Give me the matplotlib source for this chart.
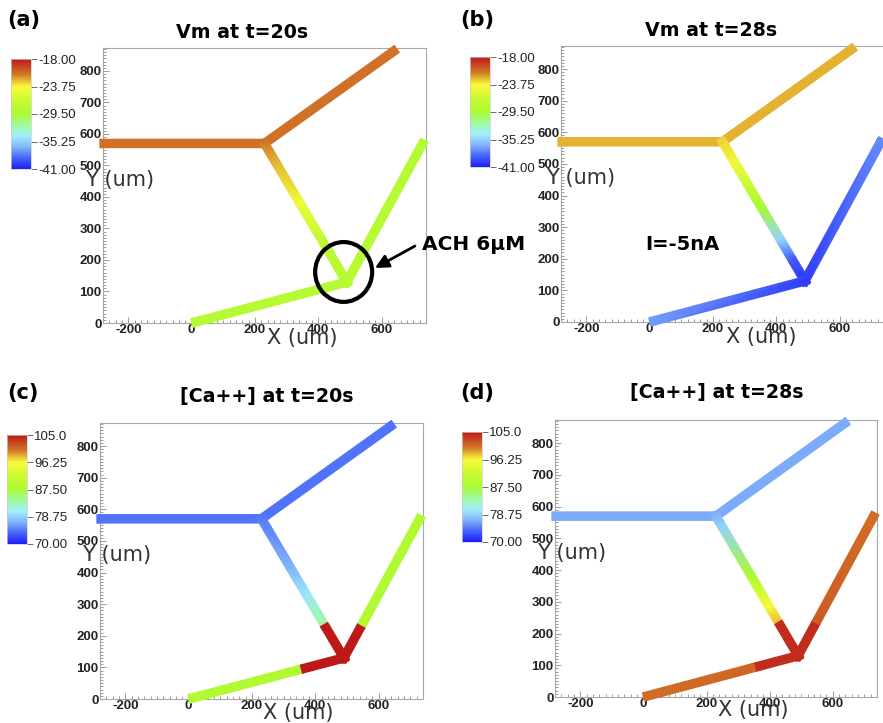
import numpy as np
import matplotlib
matplotlib.use('Agg')
import matplotlib.pyplot as plt
import matplotlib.tri as mtri
from matplotlib.colors import LinearSegmentedColormap, Normalize
from matplotlib.cm import ScalarMappable
from matplotlib.patches import Ellipse
from matplotlib.ticker import MultipleLocator

W, H = 883, 723

# neuron morphology in um: soma, top tip, left tip, lower junction, right tip, bottom tip
node_x = [230, 648, -290, 490, 735, 0]
node_y = [570, 870, 570, 130, 580, 0]
branches = [(0, 1), (0, 2), (0, 3), (3, 4), (3, 5)]
junctions = (0, 3)

# (fraction along branch, value) pairs for each branch, same order as branches
vm_20s = [
    ([0, 1], [-21.0, -21.0]),
    ([0, 1], [-21.0, -21.0]),
    ([0, 0.15, 0.42, 0.75, 1], [-21.0, -22.5, -24.5, -28.0, -28.5]),
    ([0, 1], [-28.5, -28.5]),
    ([0, 1], [-28.5, -28.5]),
]
vm_28s = [
    ([0, 1], [-22.4, -22.4]),
    ([0, 1], [-22.4, -22.4]),
    ([0, 0.15, 0.47, 0.7, 0.85, 1], [-23.0, -24.5, -29.5, -35.0, -39.0, -40.5]),
    ([0, 1], [-40.0, -37.5]),
    ([0, 1], [-40.0, -37.0]),
]
ca_20s = [
    ([0, 1], [74.2, 74.2]),
    ([0, 1], [74.2, 74.2]),
    ([0, 0.35, 0.55, 0.76, 0.76, 1], [74.5, 77.0, 80.0, 84.0, 105.0, 105.0]),
    ([0, 0.23, 0.23, 1], [105.0, 105.0, 88.5, 88.5]),
    ([0, 0.28, 0.28, 1], [105.0, 105.0, 88.5, 88.5]),
]
ca_28s = [
    ([0, 1], [76.6, 76.6]),
    ([0, 1], [76.6, 76.6]),
    ([0, 0.08, 0.43, 0.65, 0.76, 0.76, 1], [76.8, 79.0, 88.0, 96.0, 98.0, 104.0, 104.0]),
    ([0, 0.23, 0.23, 1], [104.0, 104.0, 101.5, 100.5]),
    ([0, 0.28, 0.28, 1], [104.0, 104.0, 101.0, 100.5]),
]

vm_range = (-41.0, -18.0)
ca_range = (70.0, 105.0)
vm_ticks = [-41.0, -35.25, -29.5, -23.75, -18.0]
vm_ticklabels = ['-41.00', '-35.25', '-29.50', '-23.75', '-18.00']
ca_ticks = [70.0, 78.75, 87.5, 96.25, 105.0]
ca_ticklabels = ['70.00', '78.75', '87.50', '96.25', '105.0']

x_ticks = [-200, 0, 200, 400, 600]
y_ticks = [0, 100, 200, 300, 400, 500, 600, 700, 800]

titles = ['Vm at t=20s', 'Vm at t=28s', '[Ca++] at t=20s', '[Ca++] at t=28s']
letters = ['(a)', '(b)', '(c)', '(d)']

cmap = LinearSegmentedColormap.from_list('rainbow_vtk', list(zip(
    [0, 0.1, 0.2, 0.3, 0.4, 0.5, 0.62, 0.75, 0.86, 1.0],
    ['#1e1efa', '#4664fa', '#82b4fa', '#a0f0fa', '#a0faa0',
     '#aafa32', '#c8fa32', '#fafa3c', '#d27828', '#be1919'])))


def px_rect(left, top, right, bottom):
    return [left / W, 1 - bottom / H, (right - left) / W, (bottom - top) / H]


def draw_tubes(ax, values, vmin, vmax, hw=13.5):
    for (i, j), (pos, val) in zip(branches, values):
        a = np.array([node_x[i], node_y[i]], float)
        b = np.array([node_x[j], node_y[j]], float)
        d = b - a
        u = d / np.hypot(*d)
        n = np.array([-u[1], u[0]]) * hw
        f = np.array(pos, float)
        pts = a + f[:, None] * d
        if i in junctions:
            pts[0] -= u * hw
        if j in junctions:
            pts[-1] += u * hw
        m = len(pts)
        verts = np.vstack([pts + n, pts - n])
        vals = np.concatenate([val, val])
        tris = []
        for k in range(m - 1):
            if f[k + 1] == f[k]:
                continue
            tris.append([k, m + k, k + 1])
            tris.append([m + k, m + k + 1, k + 1])
        tri = mtri.Triangulation(verts[:, 0], verts[:, 1], tris)
        ax.tripcolor(tri, vals, shading='gouraud', cmap=cmap,
                     vmin=vmin, vmax=vmax, clip_on=False, zorder=3)


def style_axes(ax):
    ax.set_xlim(-280, 740)
    ax.set_ylim(0, 873)
    ax.set_xticks(x_ticks)
    ax.set_yticks(y_ticks)
    ax.set_xticklabels([str(t) for t in x_ticks], fontfamily='Liberation Sans',
                       fontweight='bold', fontsize=9.5, color='#222222')
    ax.set_yticklabels([str(t) for t in y_ticks], fontfamily='Liberation Sans',
                       fontweight='bold', fontsize=9.5, color='#222222')
    ax.xaxis.set_minor_locator(MultipleLocator(20))
    ax.yaxis.set_minor_locator(MultipleLocator(10))
    ax.tick_params(which='both', direction='in', color='#8a8a8a', width=0.6, pad=1)
    ax.tick_params(which='major', length=4)
    ax.tick_params(which='minor', length=2)
    for sp in ax.spines.values():
        sp.set_color('#a8a8a8')
        sp.set_linewidth(0.8)


def add_colorbar(fig, rect, vrange, ticks, ticklabels):
    cax = fig.add_axes(px_rect(*rect))
    sm = ScalarMappable(norm=Normalize(*vrange), cmap=cmap)
    cb = fig.colorbar(sm, cax=cax)
    cb.set_ticks(ticks)
    cb.set_ticklabels(ticklabels)
    cb.outline.set_edgecolor('#cccccc')
    cb.outline.set_linewidth(0.5)
    cax.tick_params(length=4, width=0.6, color='#555555', pad=1)
    for lab in cax.get_yticklabels():
        lab.set_fontfamily('Liberation Sans')
        lab.set_fontsize(9.5)
        lab.set_color('#222222')


fig = plt.figure(figsize=(W / 100, H / 100), dpi=100)

axes_px = [(103, 48, 426, 323), (561, 46, 884, 322),
           (100, 423, 423, 699), (555, 420, 877, 697)]
cbar_px = [(11, 59, 31, 169), (470, 57, 490, 167),
           (7, 435, 27, 544), (462, 432, 482, 542)]
title_px = [(242, 32), (711, 31), (267, 396), (717, 393)]
letter_px = [(7, 20), (460, 20), (7, 393), (460, 393)]
ylab_px = [(85, 180), (546, 178), (82, 555), (537, 553)]
xlab_px = [(267, 338), (726, 337), (263, 713), (718, 710)]

panel_values = [vm_20s, vm_28s, ca_20s, ca_28s]
panel_ranges = [vm_range, vm_range, ca_range, ca_range]
panel_ticks = [(vm_ticks, vm_ticklabels)] * 2 + [(ca_ticks, ca_ticklabels)] * 2

axes = []
for k in range(4):
    ax = fig.add_axes(px_rect(*axes_px[k]))
    style_axes(ax)
    draw_tubes(ax, panel_values[k], *panel_ranges[k])
    add_colorbar(fig, cbar_px[k], panel_ranges[k], *panel_ticks[k])
    axes.append(ax)

    tx, ty = title_px[k]
    fig.text(tx / W, 1 - ty / H, titles[k], ha='center', va='center',
             fontsize=13.7, fontweight='bold')
    lx, ly = letter_px[k]
    fig.text(lx / W, 1 - ly / H, letters[k], ha='left', va='center',
             fontsize=15, fontweight='bold')
    yx, yy = ylab_px[k]
    fig.text(yx / W, 1 - yy / H, 'Y (um)', ha='left', va='center',
             fontsize=15, color='#333333')
    xx, xy = xlab_px[k]
    fig.text(xx / W, 1 - xy / H, 'X (um)', ha='left', va='center',
             fontsize=15, color='#333333')

# stimulus markers
axes[0].add_patch(Ellipse((480, 162), 180, 190, fill=False, lw=3, ec='black',
                          clip_on=False, zorder=5))
fig.text(422 / W, 1 - 245 / H, 'ACH 6μM', ha='left', va='center',
         fontsize=14.5, fontweight='bold')
fig.text(645 / W, 1 - 245 / H, 'I=-5nA', ha='left', va='center',
         fontsize=14, fontweight='bold')
for tail, head in [((415, 246), (375, 268)), ((732, 247), (783, 263))]:
    axes[0].annotate('', xy=(head[0], H - head[1]), xycoords='figure pixels',
                     xytext=(tail[0], H - tail[1]), textcoords='figure pixels',
                     arrowprops=dict(arrowstyle='-|>', lw=2, color='black',
                                     mutation_scale=20, shrinkA=0, shrinkB=0),
                     annotation_clip=False)

fig.savefig('out.png', dpi=100)
